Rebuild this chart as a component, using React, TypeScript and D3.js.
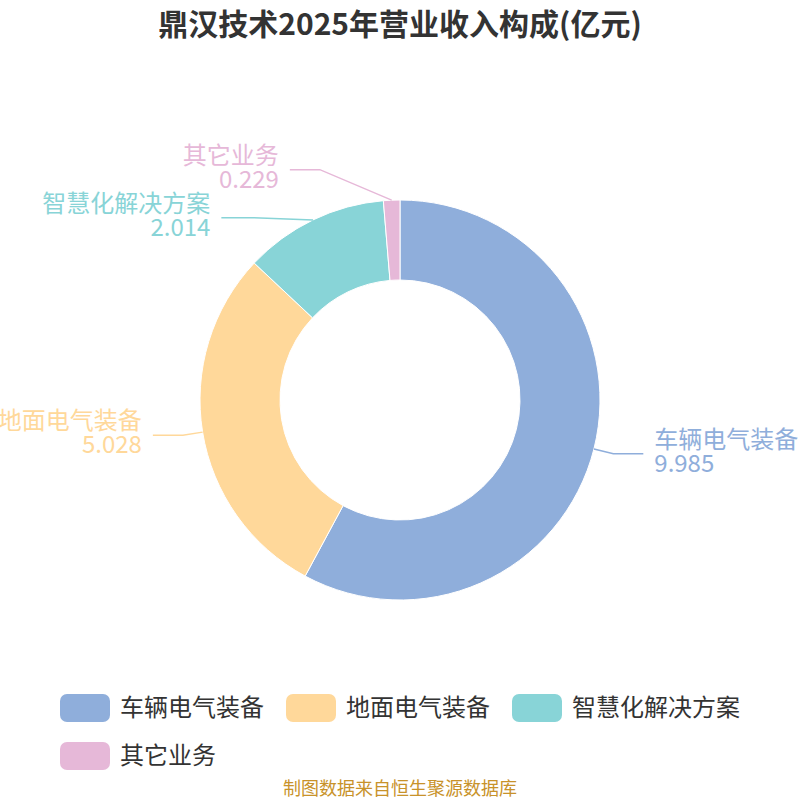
import React from 'react';
import * as d3 from 'd3';

const categories = ['车辆电气装备', '地面电气装备', '智慧化解决方案', '其它业务'];
const values = [9.985, 5.028, 2.014, 0.229];
const valueLabels = ['9.985', '5.028', '2.014', '0.229'];
const colors = ['#8FAEDB', '#FFD89A', '#88D4D7', '#E6B8D8'];
const title = '鼎汉技术2025年营业收入构成(亿元)';
const source = '制图数据来自恒生聚源数据库';

const W = 800;
const H = 800;
const CX = 400;
const CY = 400;
const R_OUT = 200;
const R_IN = 120;
const LEN1 = 20;
const LEN2 = 30;
const LABEL_GAP = 11;
const LABEL_H = 48;
const FONT = '"Noto Sans CJK SC", "Noto Sans", sans-serif';

type Lab = {
  i: number;
  a: number;
  side: number;
  edge: [number, number];
  tx: number;
  y: number;
  y0: number;
};

function pt(a: number, r: number): [number, number] {
  return [CX + r * Math.sin(a), CY - r * Math.cos(a)];
}

export default function App() {
  const pie = d3.pie<number>().sort(null).startAngle(0).endAngle(2 * Math.PI);
  const arcs = pie(values);
  const arcGen = d3.arc<d3.PieArcDatum<number>>().innerRadius(R_IN).outerRadius(R_OUT);

  const labs: Lab[] = arcs.map((d, i) => {
    const a = (d.startAngle + d.endAngle) / 2;
    const edge = pt(a, R_OUT);
    const turn = pt(a, R_OUT + LEN1);
    return { i, a, side: Math.sin(a) < 0 ? -1 : 1, edge, tx: turn[0], y: turn[1], y0: turn[1] };
  });

  [-1, 1].forEach((side) => {
    const list = labs.filter((l) => l.side === side).sort((p, q) => p.y - q.y);
    for (let it = 0; it < 20; it++) {
      for (let k = 0; k < list.length - 1; k++) {
        const diff = list[k + 1].y - list[k].y;
        if (diff < LABEL_H) {
          const ov = LABEL_H - diff;
          list[k].y -= ov * 0.4;
          list[k + 1].y += ov * 0.6;
        }
      }
    }
    [true, false].forEach((top) => {
      const semi = list.filter((l) => (l.y < CY) === top && Math.abs(l.y - l.y0) > 0.5);
      if (!semi.length) return;
      const maxDy = d3.max(semi, (l) => Math.abs(l.y - CY)) as number;
      const rA = R_OUT + LEN1;
      const rB = Math.max(rA, maxDy) + 17;
      semi.forEach((l) => {
        const dy = Math.abs(l.y - CY);
        const dx = rA * Math.sqrt(Math.max(0, 1 - (dy / rB) * (dy / rB)));
        l.tx = CX + side * dx;
      });
    });
  });

  // legend layout
  const SW = 50;
  const SH = 28;
  const SG = 10;
  const IG = 22;
  const FS = 24;
  const maxRow = 700;
  const items = categories.map((c, i) => ({ c, i, w: SW + SG + c.length * FS }));
  const rows: { c: string; i: number; w: number; x: number }[][] = [];
  let cur: { c: string; i: number; w: number; x: number }[] = [];
  let cw = 0;
  items.forEach((it) => {
    const add = (cur.length ? IG : 0) + it.w;
    if (cur.length && cw + add > maxRow) {
      rows.push(cur);
      cur = [];
      cw = 0;
    }
    const x = cw + (cur.length ? IG : 0);
    cur.push({ ...it, x });
    cw = x + it.w;
  });
  if (cur.length) rows.push(cur);
  const rowWidths = rows.map((r) => r[r.length - 1].x + r[r.length - 1].w);
  const legendW = Math.max(...rowWidths);
  const lx0 = CX - legendW / 2;
  const ly0 = 694;
  const rowStep = 48;

  return (
    <div style={{ position: 'absolute', left: 0, top: 0, width: W, height: H, background: '#fff' }}>
      <svg width={W} height={H} style={{ display: 'block' }} fontFamily={FONT}>
        <rect x={0} y={0} width={W} height={H} fill="#fff" />
        <text x={CX} y={35} textAnchor="middle" fontSize={30} fontWeight="bold" fill="#333">
          {title}
        </text>
        <g>
          {arcs.map((d, i) => (
            <path
              key={i}
              d={arcGen(d) as string}
              transform={`translate(${CX},${CY})`}
              fill={colors[i]}
              stroke="#fff"
              strokeWidth={1}
            />
          ))}
        </g>
        <g>
          {labs.map((l) => {
            const endX = l.tx + l.side * LEN2;
            const textX = endX + l.side * LABEL_GAP;
            const anchor = l.side < 0 ? 'end' : 'start';
            return (
              <g key={l.i}>
                <polyline
                  points={`${l.edge[0]},${l.edge[1]} ${l.tx},${l.y} ${endX},${l.y}`}
                  fill="none"
                  stroke={colors[l.i]}
                  strokeWidth={1.5}
                />
                <text x={textX} y={l.y - 6} textAnchor={anchor} fontSize={24} fill={colors[l.i]}>
                  {categories[l.i]}
                </text>
                <text x={textX} y={l.y + 18} textAnchor={anchor} fontSize={24} fill={colors[l.i]}>
                  {valueLabels[l.i]}
                </text>
              </g>
            );
          })}
        </g>
        <g>
          {rows.map((r, ri) =>
            r.map((it) => (
              <g key={it.i}>
                <rect
                  x={lx0 + it.x}
                  y={ly0 + ri * rowStep}
                  width={SW}
                  height={SH}
                  rx={7}
                  ry={7}
                  fill={colors[it.i]}
                />
                <text
                  x={lx0 + it.x + SW + SG}
                  y={ly0 + ri * rowStep + SH / 2 - 3}
                  dominantBaseline="central"
                  fontSize={FS}
                  fill="#333"
                >
                  {it.c}
                </text>
              </g>
            ))
          )}
        </g>
        <text x={CX} y={795} textAnchor="middle" fontSize={18} fill="#C8922A">
          {source}
        </text>
      </svg>
    </div>
  );
}
